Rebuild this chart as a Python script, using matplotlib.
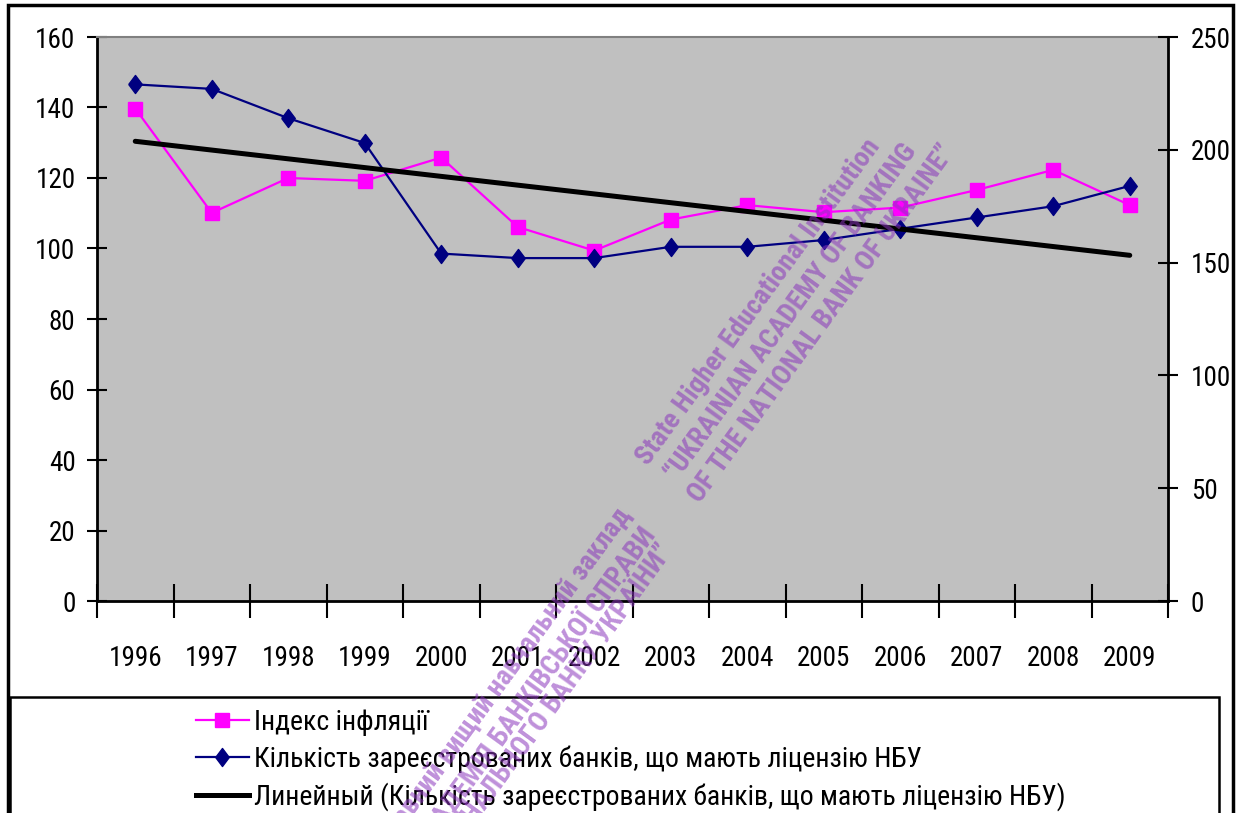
import numpy as np
import matplotlib
matplotlib.use("Agg")
import matplotlib.pyplot as plt
from matplotlib.lines import Line2D
from matplotlib.patches import Rectangle

# ---- data -------------------------------------------------------------
years = ["1996", "1997", "1998", "1999", "2000", "2001", "2002",
         "2003", "2004", "2005", "2006", "2007", "2008", "2009"]
inflation_index = [139.7, 110.1, 120.0, 119.2, 125.8, 106.1, 99.4,
                   108.2, 112.3, 110.3, 111.6, 116.6, 122.3, 112.3]
licensed_banks = [229, 227, 214, 203, 154, 152, 152,
                  157, 157, 160, 165, 170, 175, 184]
left_ticks = [0, 20, 40, 60, 80, 100, 120, 140, 160]
right_ticks = [0, 50, 100, 150, 200, 250]

label_inflation = "Індекс інфляції"
label_banks = "Кількість зареєстрованих банків, що мають ліцензію НБУ"
label_trend = "Линейный (Кількість зареєстрованих банків, що мають ліцензію НБУ)"

stamp_en = ["State Higher Educational Institution",
            "\u201cUKRAINIAN ACADEMY OF BANKING",
            "OF THE NATIONAL BANK OF UKRAINE\u201d"]
stamp_uk = ["Державний вищий навчальний заклад",
            "\u201cУКРАЇНСЬКА АКАДЕМІЯ БАНКІВСЬКОЇ СПРАВИ",
            "НАЦІОНАЛЬНОГО БАНКУ УКРАЇНИ\u201d"]

# ---- style -------------------------------------------------------------
FONT = ["Roboto Condensed", "PT Sans Narrow", "Liberation Sans", "DejaVu Sans"]
plt.rcParams["font.family"] = FONT
FS_TICK = 19.5
FS_LEG = 20
PINK = "#FF00FF"
NAVY = "#000080"

W, H = 1240, 813
fig = plt.figure(figsize=(W / 100, H / 100), dpi=100)

def fx(px):
    return px / W

def fy(py):
    return 1 - py / H

ax = fig.add_axes([fx(97), fy(601), fx(1168) - fx(97), fy(37) - fy(601)])
ax.set_facecolor("#C0C0C0")

x = np.arange(len(years))

# inflation index on the left scale
ax.plot(x, inflation_index, color=PINK, lw=1.6, marker="s", ms=10,
        mfc=PINK, mec=PINK, zorder=3)
ax.set_xlim(-0.5, len(years) - 0.5)
ax.set_ylim(left_ticks[0], left_ticks[-1])
ax.set_yticks(left_ticks)
ax.set_xticks(np.arange(-0.5, len(years)), labels=[""] * (len(years) + 1))
ax.set_xticks(x, labels=years, minor=True)
ax.tick_params(axis="x", which="major", direction="inout", length=24,
               width=1.5, color="black")
ax.tick_params(axis="x", which="minor", length=0, pad=32, labelsize=FS_TICK)
ax.tick_params(axis="y", direction="inout", length=15, width=1.5,
               pad=8, labelsize=FS_TICK)
for side in ("left", "bottom"):
    ax.spines[side].set_linewidth(2)
    ax.spines[side].set_color("black")
ax.spines["top"].set_color("#808080")
ax.spines["top"].set_linewidth(1.5)
ax.spines["right"].set_visible(False)

# bank counts and their linear trend on the right scale
ax2 = ax.twinx()
diamond = [(-0.75, 0), (0, 1), (0.75, 0), (0, -1), (-0.75, 0)]
ax2.plot(x, licensed_banks, color=NAVY, lw=1.6, marker=diamond, ms=13,
         mfc=NAVY, mec=NAVY, zorder=3)
coef = np.polyfit(x, licensed_banks, 1)
ax2.plot(x, np.polyval(coef, x), color="black", lw=3.6,
         solid_capstyle="round", zorder=4)
ax2.set_ylim(right_ticks[0], right_ticks[-1])
ax2.set_yticks(right_ticks)
ax2.tick_params(axis="y", direction="inout", length=15, width=1.5,
                pad=9, labelsize=FS_TICK)
for side in ("left", "top", "bottom"):
    ax2.spines[side].set_visible(False)
ax2.spines["right"].set_linewidth(2)

# legend below the plot
handles = [
    Line2D([], [], color=PINK, lw=1.6, marker="s", ms=10, mfc=PINK, mec=PINK),
    Line2D([], [], color=NAVY, lw=1.6, marker=diamond, ms=13, mfc=NAVY, mec=NAVY),
    Line2D([], [], color="black", lw=3.6),
]
fig.legend(handles, [label_inflation, label_banks, label_trend],
           loc="upper left", bbox_to_anchor=(fx(196), fy(709)),
           frameon=False, fontsize=FS_LEG, handlelength=1.9,
           handletextpad=0.2, labelspacing=0.34, borderpad=0,
           borderaxespad=0)

# frames around the chart and the legend
fig.add_artist(Rectangle((fx(8), -0.05), fx(1233) - fx(8), fy(5) + 0.05,
                         transform=fig.transFigure, fill=False,
                         lw=2.5, ec="black", zorder=10))
fig.add_artist(Rectangle((fx(10), -0.05), fx(1219) - fx(10), fy(697) + 0.05,
                         transform=fig.transFigure, fill=False,
                         lw=1.8, ec="black", zorder=10))

# institutional stamp across the chart
stamp_kw = dict(rotation=54, rotation_mode="anchor", va="baseline",
                color="#8A35BC", alpha=0.55, fontsize=20,
                fontweight=900, zorder=20)
for (px, py), line in zip([(648, 466), (677, 482), (700, 504)], stamp_en):
    fig.text(fx(px), fy(py), line, ha="left", **stamp_kw)
for (px, py), line in zip([(632, 515), (657, 535), (674, 552)], stamp_uk):
    fig.text(fx(px), fy(py), line, ha="right", **stamp_kw)

fig.savefig("out.png", dpi=100)
